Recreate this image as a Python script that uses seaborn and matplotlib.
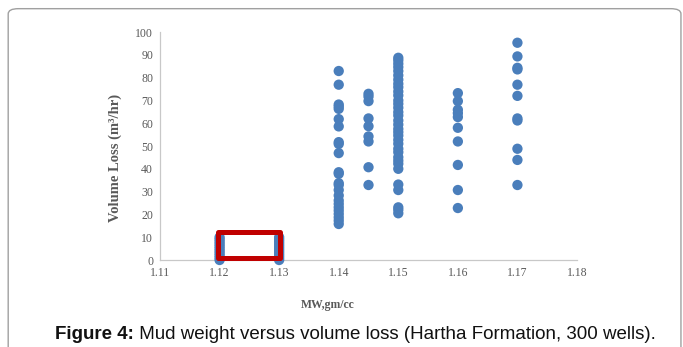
import pandas as pd
import matplotlib.pyplot as plt
import seaborn as sns
from matplotlib.patches import Rectangle, FancyBboxPatch

# Mud weight groups and volume loss readings
mw_112 = [0, 1, 2, 3, 4, 5, 6, 7, 8, 9, 10]
mw_113 = [0, 1, 2, 3, 4, 5, 6, 7, 8, 9, 10]
mw_114 = [82.9, 76.9, 68.2, 67.3, 66.3, 61.8, 58.6, 51.7, 50.9, 46.9, 38.5, 37.8,
          33.7, 32.9, 30.7, 28.3, 26.1, 24.6, 23.1, 21.7, 20.2, 18.7, 17.3, 15.8]
mw_1145 = [72.9, 71.7, 69.7, 62.1, 58.7, 54.2, 52.0, 40.7, 32.9]
mw_115 = [88.7, 87.6, 86.1, 84.6, 82.9, 81.0, 79.1, 77.3, 75.8, 73.9, 72.2, 70.0,
          68.5, 66.8, 64.9, 63.4, 61.2, 59.4, 57.5, 56.1, 54.6, 52.7, 51.0, 48.8,
          47.3, 45.1, 43.6, 42.2, 40.0, 33.1, 30.7, 23.1, 22.0, 20.5]
mw_116 = [73.2, 69.7, 65.9, 64.4, 62.7, 58.0, 52.0, 41.7, 30.7, 22.8]
mw_117 = [95.3, 89.3, 84.3, 83.6, 76.9, 72.0, 62.1, 61.2, 48.8, 43.9, 32.9]

groups = {1.12: mw_112, 1.13: mw_113, 1.14: mw_114, 1.145: mw_1145,
          1.15: mw_115, 1.16: mw_116, 1.17: mw_117}
rows = [(mw, v) for mw, vals in groups.items() for v in vals]
df = pd.DataFrame(rows, columns=["mw", "loss"])

x_ticks = [1.11, 1.12, 1.13, 1.14, 1.15, 1.16, 1.17, 1.18]
y_ticks = list(range(0, 101, 10))

sns.set_style("white")
plt.rcParams["font.family"] = ["Liberation Serif", "DejaVu Serif"]

fig = plt.figure(figsize=(6.83, 3.47), dpi=100)
ax = fig.add_axes([0.2343, 0.2507, 0.6105, 0.657])

sns.scatterplot(data=df, x="mw", y="loss", ax=ax, color="#4A7EBB", s=55,
                edgecolor="none", linewidth=0, clip_on=False, zorder=3)

# red highlight box
ax.add_patch(Rectangle((1.1197, 1.0), 0.0105, 11.5, fill=False, edgecolor="#C00000",
                       linewidth=3.6, joinstyle="round", zorder=4, clip_on=False))

ax.set_xlim(1.11, 1.18)
ax.set_ylim(0, 100)
ax.set_xticks(x_ticks)
ax.set_xticklabels([f"{t:.2f}" for t in x_ticks])
ax.set_yticks(y_ticks)
ax.tick_params(length=0, labelsize=8.5, colors="#595959", pad=5)
for side in ["top", "right"]:
    ax.spines[side].set_visible(False)
for side in ["left", "bottom"]:
    ax.spines[side].set_color("#C8C8C8")
    ax.spines[side].set_linewidth(0.9)
ax.grid(False)

ax.set_xlabel("MW,gm/cc", fontsize=8.5, fontweight="bold", color="#595959")
ax.xaxis.set_label_coords(0.403, -0.17)
ax.set_ylabel("Volume Loss (m³/hr)", fontsize=10.5, fontweight="bold", color="#595959")
ax.yaxis.set_label_coords(-0.09, 0.447)

# rounded frame around the chart
frame = FancyBboxPatch((0.012, -0.2), 0.985, 1.175, boxstyle="round,pad=0,rounding_size=0.015",
                       transform=fig.transFigure, fill=False, edgecolor="#A0A0A0",
                       linewidth=1.0, clip_on=False)
fig.patches.append(frame)

# caption: bold lead-in followed by normal text, centred as a whole
cap_font = ["Liberation Sans", "DejaVu Sans"]
cap_y = 0.037
t1 = fig.text(0, cap_y, "Figure 4:", ha="left", va="center", fontsize=13.5,
              fontweight="bold", family=cap_font, color="#111111")
t2 = fig.text(0, cap_y, " Mud weight versus volume loss (Hartha Formation, 300 wells).",
              ha="left", va="center", fontsize=13.5, family=cap_font, color="#111111")
fig.canvas.draw()
r = fig.canvas.get_renderer()
w1 = t1.get_window_extent(r).width / fig.bbox.width
w2 = t2.get_window_extent(r).width / fig.bbox.width
x0 = 0.52 - (w1 + w2) / 2
t1.set_x(x0)
t2.set_x(x0 + w1)

plt.savefig("out.png", dpi=100)
